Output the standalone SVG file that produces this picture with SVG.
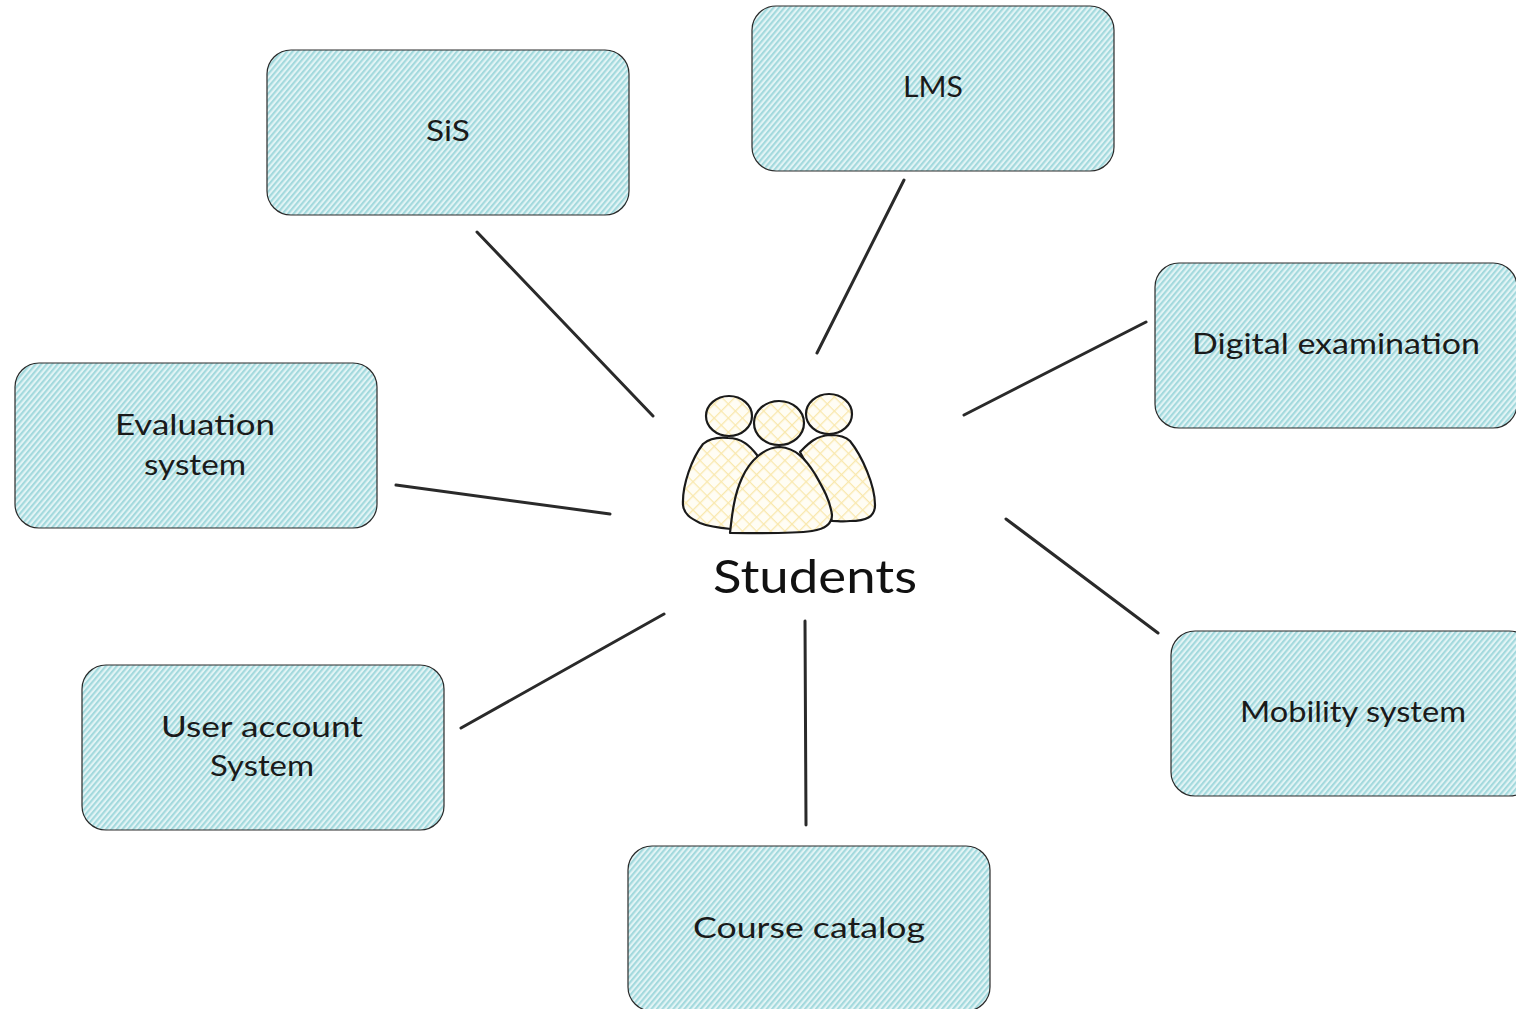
<svg xmlns="http://www.w3.org/2000/svg" width="1516" height="1009" viewBox="0 0 1516 1009">
<style>
.box{fill:url(#hatch);stroke:#2a2a2a;stroke-width:1.2}
.lbl{font-family:"Lato","Noto Sans",sans-serif;font-size:29px;fill:#1a1a1a;text-anchor:middle}
.c{stroke:#2a2a2a;stroke-width:3;fill:none;stroke-linecap:round}
.p{fill:url(#cross);stroke:#1a1a1a;stroke-width:2.2;stroke-linejoin:round}
</style>
<defs>
<pattern id="hatch" width="4.2" height="4.2" patternUnits="userSpaceOnUse" patternTransform="rotate(-50)">
<rect width="4.2" height="4.2" fill="#e2f4f5"/>
<rect width="4.2" height="2.1" fill="#a3d9dd"/>
</pattern>
<pattern id="cross" width="10" height="10" patternUnits="userSpaceOnUse" patternTransform="rotate(45)">
<rect width="10" height="10" fill="#fffdf4"/>
<path d="M0 0H10M0 0V10" stroke="#f9e8ad" stroke-width="2.6" fill="none"/>
</pattern>
</defs>
<rect width="1516" height="1009" fill="#fff"/>
<g id="connectors">
<line class="c" x1="477" y1="232" x2="653" y2="416"/>
<line class="c" x1="904" y1="180" x2="817" y2="353"/>
<line class="c" x1="1146" y1="322" x2="964" y2="415"/>
<line class="c" x1="1006" y1="519" x2="1158" y2="633"/>
<line class="c" x1="805" y1="621" x2="806" y2="825"/>
<line class="c" x1="664" y1="614" x2="461" y2="728"/>
<line class="c" x1="396" y1="485" x2="610" y2="514"/>
</g>
<g id="sis"><rect class="box" x="267" y="50" width="362" height="165" rx="24"/><text class="lbl" x="448" y="141" textLength="44" lengthAdjust="spacingAndGlyphs">SiS</text></g>
<g id="lms"><rect class="box" x="752" y="6" width="362" height="165" rx="24"/><text class="lbl" x="933" y="97" textLength="60" lengthAdjust="spacingAndGlyphs">LMS</text></g>
<g id="digital-examination"><rect class="box" x="1155" y="263" width="362" height="165" rx="24"/><text class="lbl" x="1336" y="354" textLength="288" lengthAdjust="spacingAndGlyphs">Digital examination</text></g>
<g id="evaluation-system"><rect class="box" x="15" y="363" width="362" height="165" rx="24"/><text class="lbl" x="195" y="435" textLength="160" lengthAdjust="spacingAndGlyphs">Evaluation</text><text class="lbl" x="195" y="475" textLength="102" lengthAdjust="spacingAndGlyphs">system</text></g>
<g id="user-account-system"><rect class="box" x="82" y="665" width="362" height="165" rx="24"/><text class="lbl" x="262" y="737" textLength="202" lengthAdjust="spacingAndGlyphs">User account</text><text class="lbl" x="262" y="776" textLength="104" lengthAdjust="spacingAndGlyphs">System</text></g>
<g id="mobility-system"><rect class="box" x="1171" y="631" width="362" height="165" rx="24"/><text class="lbl" x="1353" y="722" textLength="226" lengthAdjust="spacingAndGlyphs">Mobility system</text></g>
<g id="course-catalog"><rect class="box" x="628" y="846" width="362" height="165" rx="24"/><text class="lbl" x="809" y="938" textLength="232" lengthAdjust="spacingAndGlyphs">Course catalog</text></g>
<g id="students">
<path class="p" d="M757 455C750 446 742 438 728 438C718 437 710 438 703 444C692 458 682 485 683 505C684 514 690 518 700 523C710 527 720 528 731 529L770 500Z"/>
<path class="p" d="M800 452C808 444 815 436 830 435C838 435 845 436 850 441C862 456 875 485 875 505C875 517 866 521 850 521C842 522 838 521 832 521L815 480Z"/>
<ellipse class="p" cx="729" cy="416" rx="23" ry="20"/>
<ellipse class="p" cx="829" cy="414" rx="23" ry="20"/>
<ellipse class="p" cx="779" cy="423" rx="25" ry="22"/>
<path class="p" d="M730 533C732 515 734 495 742 478C750 460 765 447 780 447C795 448 805 458 815 474C823 488 830 500 832 515C832 524 825 529 812 531C790 534 760 533 730 533Z"/>
<text x="815" y="593" style="font-family:'Lato','Noto Sans',sans-serif;font-size:47px;fill:#111;text-anchor:middle" textLength="204" lengthAdjust="spacingAndGlyphs">Students</text>
</g>
</svg>
